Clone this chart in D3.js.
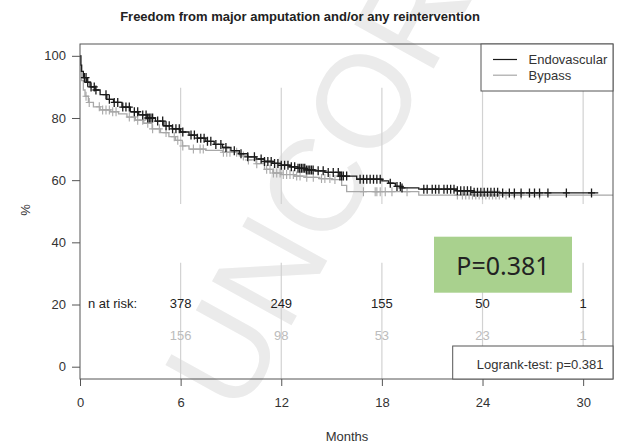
<!DOCTYPE html>
<html>
<head>
<meta charset="utf-8">
<script src="https://cdn.jsdelivr.net/npm/d3@7"></script>
<style>
  body { margin: 0; background: #fff; }
  svg { display: block; font-family: "Liberation Sans", Arial, sans-serif; }
</style>
</head>
<body>
<svg id="chart" width="618" height="443"></svg>
<script>
// survival curves (months, % free)
const endoTime = [0, 0.05, 0.1, 0.2, 0.4, 0.6, 0.9, 1.2, 1.6, 2.0, 2.5, 3.0, 3.5, 4.0, 4.5, 5.0, 5.5, 6.0, 6.5, 7.0, 7.5, 8.0, 8.5, 9.0, 9.5, 10.0, 10.5, 11.0, 11.5, 12.0, 12.5, 13.0, 13.5, 14.0, 14.6, 15.5, 16.5, 18.0, 18.4, 18.8, 19.2, 20.2, 22.5, 23.5, 25.0, 30.9];
const endoSurv = [100, 97, 95, 93, 91.5, 90, 89, 87.5, 86, 85, 83.5, 82, 81, 80, 79, 77.5, 76.5, 75.5, 74.5, 73.5, 72.5, 71.5, 70.5, 69.5, 68.5, 67.5, 66.8, 66, 65.4, 64.8, 64.3, 63.8, 63.3, 63, 62.5, 61.3, 60.3, 59.8, 59, 58, 57.5, 57.1, 56.6, 56.1, 55.9, 55.9];

const bypassTime = [0, 0.05, 0.1, 0.2, 0.3, 0.5, 0.8, 1.2, 1.8, 2.3, 2.8, 3.3, 3.8, 4.3, 4.8, 5.3, 5.7, 6.1, 6.5, 7.5, 8.5, 9.5, 10.0, 10.5, 11.0, 11.5, 12.0, 12.8, 13.5, 14.3, 15.0, 15.6, 15.9, 20.2, 32];
const bypassSurv = [100, 95, 92, 89, 87, 85, 83.6, 82.6, 82, 81.3, 80.3, 79.3, 78.3, 76.5, 75.3, 74, 72.8, 71, 70, 69.6, 69, 67.8, 66.5, 65.3, 63.5, 62.3, 61.8, 61.3, 60.9, 60.5, 60.2, 58.3, 56.3, 55.2, 55.2];

// censoring times (+ marks)
const endoCensor = [0.26, 0.36, 0.46, 0.66, 0.85, 0.95, 1.55, 1.75, 2.04, 2.25, 2.55, 2.74, 2.94, 3.24, 3.44, 3.74, 3.94, 4.04, 4.13, 4.23, 4.33, 4.63, 4.93, 5.13, 5.32, 5.52, 5.72, 5.92, 6.13, 6.62, 6.82, 7.0, 7.2, 7.4, 7.6, 7.8, 8.1, 8.4, 8.7, 9.2, 9.6, 10.0, 10.4, 10.8, 11.0, 11.2, 11.4, 11.6, 11.8, 12.0, 12.2, 12.4, 12.6, 12.8, 13.0, 13.1, 13.2, 13.3, 13.4, 13.5, 13.6, 13.7, 13.8, 13.9, 14.2, 14.5, 14.8, 15.1, 15.4, 15.5, 15.6, 15.7, 15.9, 16.7, 16.9, 17.1, 17.3, 17.5, 17.7, 17.9, 18.5, 18.9, 19.1, 19.2, 20.5, 20.7, 21.0, 21.2, 21.4, 21.7, 21.9, 22.1, 22.3, 22.5, 22.7, 22.9, 23.1, 23.3, 23.5, 23.7, 23.9, 24.1, 24.3, 24.5, 24.7, 24.9, 25.2, 25.6, 25.9, 26.3, 26.8, 27.1, 27.4, 27.9, 29.0, 30.5];
const bypassCensor = [0.36, 0.55, 1.15, 1.35, 1.55, 1.75, 1.95, 2.15, 2.94, 3.24, 3.44, 3.74, 4.04, 4.33, 4.73, 5.13, 5.62, 5.83, 6.13, 6.76, 7.16, 7.35, 8.55, 8.75, 8.94, 9.34, 9.74, 10.04, 10.54, 11.13, 11.33, 11.53, 11.73, 11.93, 12.12, 12.32, 12.52, 12.72, 12.92, 13.12, 13.52, 13.91, 14.4, 14.6, 14.9, 15.2, 16.9, 17.6, 17.7, 17.9, 18.2, 18.6, 19.5, 22.5, 22.8, 23.0, 23.2, 23.4, 23.6, 23.8, 24.0, 24.2, 24.4, 24.6, 24.8, 25.0, 25.4, 25.9, 26.3, 27.4];

// numbers at risk
const riskMonths = [6, 12, 18, 24, 30];
const riskEndo = [378, 249, 155, 50, 1];
const riskBypass = [156, 98, 53, 23, 1];

const xTicks = [0, 6, 12, 18, 24, 30];
const yTicks = [0, 20, 40, 60, 80, 100];
const series = ["Endovascular", "Bypass"];
const pValue = "0.381";

const svg = d3.select("#chart");
const pLeft = 80, pRight = 613, pTop = 44, pBottom = 379;

let x = d3.scaleLinear().domain([0, 31.78]).range([pLeft, pRight]);
let y = d3.scaleLinear().domain([-3.96, 103.8]).range([pBottom, pTop]);

const black = "#1a1a1a", grey = "#a8a8a8";

// proof watermark behind everything
svg.append("text")
    .attr("transform", "translate(240,418) rotate(-61)")
    .attr("font-size", 132)
    .attr("fill", "#ebebeb")
    .text("UNCORRECTED");

// title
svg.append("text")
    .attr("x", 300).attr("y", 21)
    .attr("text-anchor", "middle")
    .attr("font-size", 13).attr("font-weight", "bold")
    .attr("fill", "#222")
    .text("Freedom from major amputation and/or any reintervention");

// gray vertical guide segments at the risk-table months
const guideSpans = [[52.3, 89.7], [-3.96, 33.4]];
riskMonths.forEach(m => {
    guideSpans.forEach(s => {
        svg.append("line")
            .attr("x1", x(m)).attr("x2", x(m))
            .attr("y1", y(s[0])).attr("y2", y(s[1]))
            .attr("stroke", "#d2d2d2").attr("stroke-width", 1.2);
    });
});

// axes
let yAxis = d3.axisLeft(y).tickValues(yTicks).tickSize(8).tickPadding(6);
let gy = svg.append("g").attr("transform", "translate(" + pLeft + ",0)").call(yAxis);
let xAxis = d3.axisBottom(x).tickValues(xTicks).tickSize(7).tickPadding(12);
let gx = svg.append("g").attr("transform", "translate(0," + pBottom + ")").call(xAxis);
[gx, gy].forEach(g => {
    g.select(".domain").remove();
    g.selectAll("line").attr("stroke", "#555");
    g.selectAll("text").attr("font-size", 13).attr("fill", "#333")
        .attr("font-family", "Liberation Sans, Arial, sans-serif");
});

svg.append("text")
    .attr("transform", "translate(30,210) rotate(-90)")
    .attr("text-anchor", "middle")
    .attr("font-size", 13).attr("fill", "#333")
    .text("%");
svg.append("text")
    .attr("x", 347).attr("y", 441)
    .attr("text-anchor", "middle")
    .attr("font-size", 13).attr("fill", "#333")
    .text("Months");

// curves
let line = d3.line().x(d => x(d[0])).y(d => y(d[1])).curve(d3.curveStepAfter);
svg.append("clipPath").attr("id", "clip")
    .append("rect").attr("x", pLeft).attr("y", pTop)
    .attr("width", pRight - pLeft).attr("height", pBottom - pTop);

function survAt(times, surv, t) {
    let i = d3.bisectRight(times, t) - 1;
    return surv[Math.max(0, i)];
}

let curves = [
    {times: bypassTime, surv: bypassSurv, cens: bypassCensor, color: grey, w: 1.1},
    {times: endoTime, surv: endoSurv, cens: endoCensor, color: black, w: 1.3}
];
let plot = svg.append("g").attr("clip-path", "url(#clip)");
curves.forEach(c => {
    plot.append("path")
        .datum(d3.zip(c.times, c.surv))
        .attr("d", line)
        .attr("fill", "none")
        .attr("stroke", c.color).attr("stroke-width", 1.3);
    plot.selectAll(null).data(c.cens).enter().append("path")
        .attr("d", t => {
            let px = x(t), py = y(survAt(c.times, c.surv, t));
            return `M${px - 3.5},${py}H${px + 3.5}M${px},${py - 4.5}V${py + 4.5}`;
        })
        .attr("stroke", c.color).attr("stroke-width", c.w);
});

// numbers at risk
svg.append("text")
    .attr("x", 88).attr("y", 308)
    .attr("font-size", 13).attr("fill", "#222")
    .text("n at risk:");
svg.selectAll(".riskEndo").data(riskEndo).enter().append("text")
    .attr("x", (d, i) => x(riskMonths[i])).attr("y", 308)
    .attr("text-anchor", "middle")
    .attr("font-size", 13).attr("fill", "#222")
    .text(d => d);
svg.selectAll(".riskBypass").data(riskBypass).enter().append("text")
    .attr("x", (d, i) => x(riskMonths[i])).attr("y", 340)
    .attr("text-anchor", "middle")
    .attr("font-size", 13).attr("fill", "#bcbcbc")
    .text(d => d);

// plot frame
svg.append("rect")
    .attr("x", pLeft).attr("y", pTop)
    .attr("width", pRight - pLeft).attr("height", pBottom - pTop)
    .attr("fill", "none").attr("stroke", "#555").attr("stroke-width", 1);

// legend
svg.append("rect")
    .attr("x", 481).attr("y", pTop)
    .attr("width", pRight - 481).attr("height", 47)
    .attr("fill", "#fff").attr("stroke", "#555").attr("stroke-width", 1);
[black, grey].forEach((col, i) => {
    let ly = 59.5 + i * 15.7;
    svg.append("line")
        .attr("x1", 493).attr("x2", 517).attr("y1", ly).attr("y2", ly)
        .attr("stroke", col).attr("stroke-width", 1.2);
    svg.append("text")
        .attr("x", 528.5).attr("y", ly + 4.5)
        .attr("font-size", 13).attr("fill", "#333")
        .text(series[i]);
});

// logrank box
svg.append("rect")
    .attr("x", 452.7).attr("y", 346)
    .attr("width", pRight - 452.7).attr("height", pBottom - 346)
    .attr("fill", "#fff").attr("stroke", "#555").attr("stroke-width", 1);
svg.append("text")
    .attr("x", 476.7).attr("y", 368.5)
    .attr("font-size", 13).attr("fill", "#333")
    .text("Logrank-test: p=" + pValue);

// highlighted p-value
svg.append("rect")
    .attr("x", 434).attr("y", 236.7)
    .attr("width", 138).attr("height", 56)
    .attr("fill", "#a9d18e");
svg.append("text")
    .attr("x", 503).attr("y", 275)
    .attr("text-anchor", "middle")
    .attr("font-family", "Noto Sans, Open Sans, sans-serif")
    .attr("font-size", 25).attr("fill", "#222")
    .text("P=" + pValue);
</script>
</body>
</html>
